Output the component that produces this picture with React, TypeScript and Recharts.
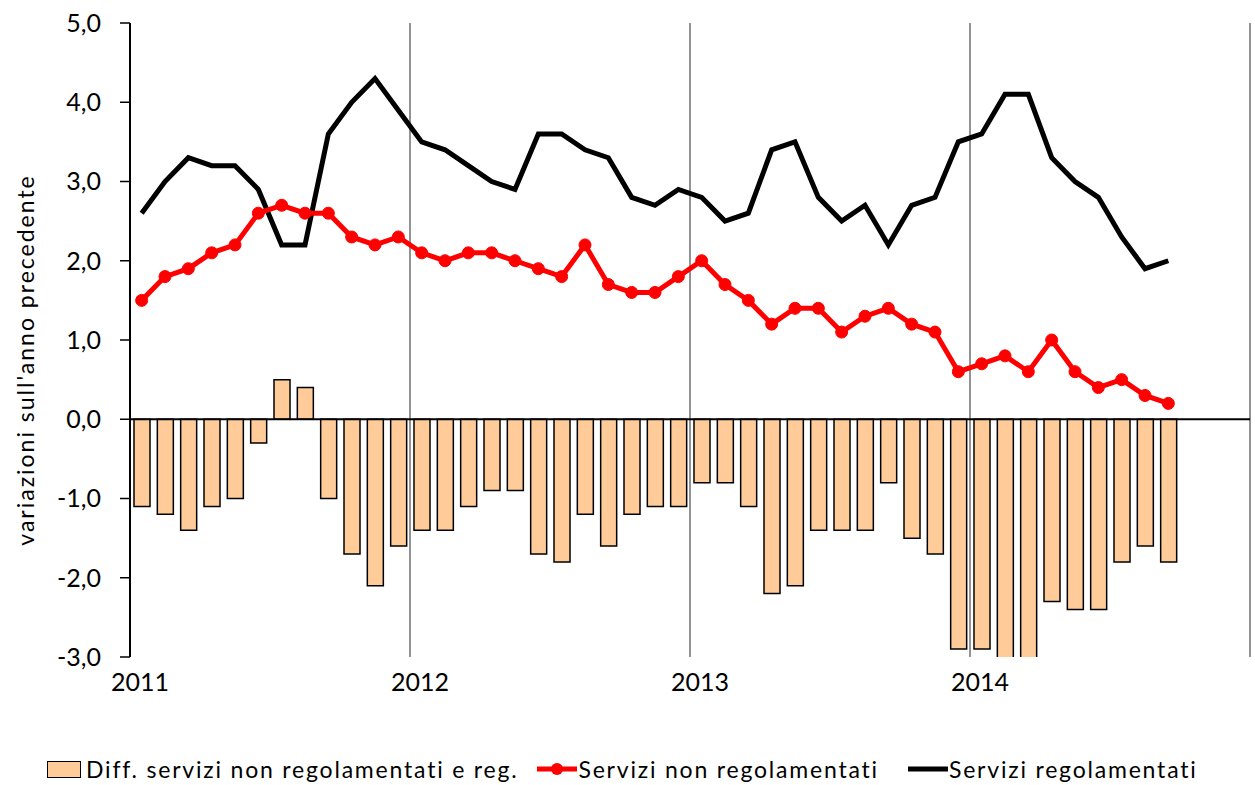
import {
  Bar,
  CartesianGrid,
  ComposedChart,
  Line,
  ReferenceLine,
  XAxis,
  YAxis,
} from "recharts";

// Monthly data, Jan 2011 – Sep 2014
const months = [
  "2011-01", "2011-02", "2011-03", "2011-04", "2011-05", "2011-06",
  "2011-07", "2011-08", "2011-09", "2011-10", "2011-11", "2011-12",
  "2012-01", "2012-02", "2012-03", "2012-04", "2012-05", "2012-06",
  "2012-07", "2012-08", "2012-09", "2012-10", "2012-11", "2012-12",
  "2013-01", "2013-02", "2013-03", "2013-04", "2013-05", "2013-06",
  "2013-07", "2013-08", "2013-09", "2013-10", "2013-11", "2013-12",
  "2014-01", "2014-02", "2014-03", "2014-04", "2014-05", "2014-06",
  "2014-07", "2014-08", "2014-09",
];

const nonRegolamentati = [
  1.5, 1.8, 1.9, 2.1, 2.2, 2.6, 2.7, 2.6, 2.6, 2.3, 2.2, 2.3,
  2.1, 2.0, 2.1, 2.1, 2.0, 1.9, 1.8, 2.2, 1.7, 1.6, 1.6, 1.8,
  2.0, 1.7, 1.5, 1.2, 1.4, 1.4, 1.1, 1.3, 1.4, 1.2, 1.1, 0.6,
  0.7, 0.8, 0.6, 1.0, 0.6, 0.4, 0.5, 0.3, 0.2,
];

const regolamentati = [
  2.6, 3.0, 3.3, 3.2, 3.2, 2.9, 2.2, 2.2, 3.6, 4.0, 4.3, 3.9,
  3.5, 3.4, 3.2, 3.0, 2.9, 3.6, 3.6, 3.4, 3.3, 2.8, 2.7, 2.9,
  2.8, 2.5, 2.6, 3.4, 3.5, 2.8, 2.5, 2.7, 2.2, 2.7, 2.8, 3.5,
  3.6, 4.1, 4.1, 3.3, 3.0, 2.8, 2.3, 1.9, 2.0,
];

const differenza = [
  -1.1, -1.2, -1.4, -1.1, -1.0, -0.3, 0.5, 0.4, -1.0, -1.7, -2.1, -1.6,
  -1.4, -1.4, -1.1, -0.9, -0.9, -1.7, -1.8, -1.2, -1.6, -1.2, -1.1, -1.1,
  -0.8, -0.8, -1.1, -2.2, -2.1, -1.4, -1.4, -1.4, -0.8, -1.5, -1.7, -2.9,
  -2.9, -3.3, -3.5, -2.3, -2.4, -2.4, -1.8, -1.6, -1.8,
];

const yearTicks = [0, 12, 24, 36, 48];
const yearLabels = ["2011", "2012", "2013", "2014", ""];
const yTicks = [-3, -2, -1, 0, 1, 2, 3, 4, 5];

const data = months.map((m, i) => ({
  month: m,
  x: i + 0.5,
  diff: differenza[i],
  nonReg: nonRegolamentati[i],
  reg: regolamentati[i],
}));

const FONT = "Lato, 'Liberation Sans', sans-serif";
const BAR_FILL = "#FFCC99";

const fmt = (v: number) => v.toFixed(1).replace(".", ",");

function YTitle() {
  return (
    <text
      x={25}
      y={360}
      transform="rotate(-90, 25, 360)"
      textAnchor="middle"
      dominantBaseline="central"
      fontFamily={FONT}
      fontSize={23}
      letterSpacing={2}
      fill="#000"
    >
      variazioni sull'anno precedente
    </text>
  );
}

function LegendRow() {
  const text: React.CSSProperties = {
    fontFamily: FONT,
    fontSize: 23,
    letterSpacing: 1.8,
    color: "#000",
    whiteSpace: "nowrap",
  };
  return (
    <div
      style={{
        position: "absolute",
        left: 47,
        top: 754,
        height: 30,
        display: "flex",
        alignItems: "center",
      }}
    >
      <span
        style={{
          width: 32,
          height: 15,
          background: BAR_FILL,
          border: "1.5px solid #000",
          marginRight: 5,
        }}
      />
      <span style={text}>Diff. servizi non regolamentati e reg.</span>
      <svg width={42} height={20} style={{ marginLeft: 18 }}>
        <line x1={1} y1={10} x2={41} y2={10} stroke="#ff0000" strokeWidth={5} />
        <circle cx={21} cy={10} r={6} fill="#ff0000" />
      </svg>
      <span style={text}>Servizi non regolamentati</span>
      <svg width={42} height={20} style={{ marginLeft: 28 }}>
        <line x1={1} y1={10} x2={41} y2={10} stroke="#000" strokeWidth={5} />
      </svg>
      <span style={text}>Servizi regolamentati</span>
    </div>
  );
}

export default function App() {
  return (
    <div
      style={{
        position: "absolute",
        left: 0,
        top: 0,
        width: 1255,
        height: 785,
        background: "#fff",
      }}
    >
      <ComposedChart
        width={1255}
        height={785}
        data={data}
        margin={{ top: 23, right: 5, bottom: 88, left: 0 }}
      >
        <CartesianGrid
          horizontal={false}
          vertical
          stroke="#6f6f6f"
          strokeWidth={1.5}
        />
        <XAxis
          dataKey="x"
          type="number"
          domain={[0, 48]}
          ticks={yearTicks}
          tickFormatter={(v: number) => yearLabels[yearTicks.indexOf(v)]}
          axisLine={false}
          tickLine={false}
          tickMargin={10}
          height={40}
          tick={{ fontFamily: FONT, fontSize: 25, fill: "#000", dx: 10 }}
          interval={0}
        />
        <YAxis
          domain={[-3, 5]}
          ticks={yTicks}
          allowDataOverflow
          tickFormatter={fmt}
          width={130}
          tickSize={10}
          tickMargin={19}
          axisLine={{ stroke: "#000", strokeWidth: 2 }}
          tickLine={{ stroke: "#000", strokeWidth: 1.5 }}
          tick={{ fontFamily: FONT, fontSize: 25, fill: "#000" }}
          interval={0}
          label={{ content: () => <YTitle /> }}
        />
        <ReferenceLine y={0} stroke="#000" strokeWidth={2} />
        <Bar
          dataKey="diff"
          barSize={16}
          fill={BAR_FILL}
          stroke="#000"
          strokeWidth={1.5}
          isAnimationActive={false}
        />
        <Line
          dataKey="reg"
          stroke="#000"
          strokeWidth={5}
          dot={false}
          strokeLinejoin="miter"
          isAnimationActive={false}
        />
        <Line
          dataKey="nonReg"
          stroke="#ff0000"
          strokeWidth={5}
          dot={{ r: 6, fill: "#ff0000", stroke: "#ff0000", strokeWidth: 1 }}
          isAnimationActive={false}
        />
      </ComposedChart>
      <LegendRow />
    </div>
  );
}
